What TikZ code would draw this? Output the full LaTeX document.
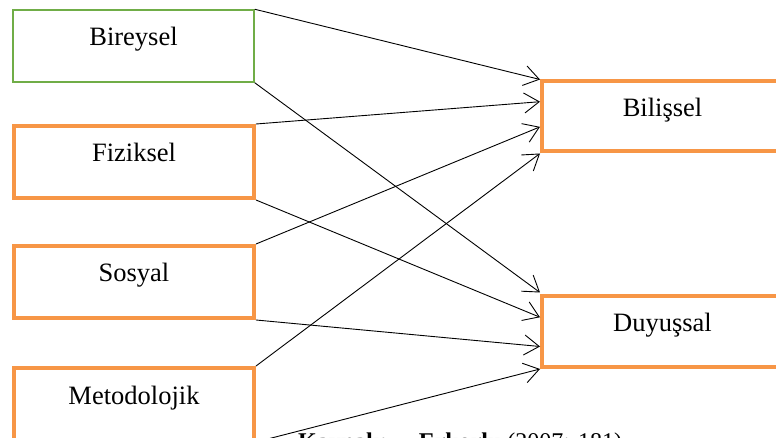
\documentclass[tikz,border=0pt]{standalone}
\usepackage{fontspec}
\setmainfont{Liberation Serif}
\usetikzlibrary{arrows.meta,calc}
\definecolor{boxgreen}{HTML}{70AD47}
\definecolor{boxorange}{HTML}{F79646}
\tikzset{
  basebox/.style={draw, minimum height=72pt, inner sep=0pt,
    font=\fontsize{26.5}{31}\selectfont, text height=17pt, text depth=17pt},
  greenbox/.style={basebox, draw=boxgreen, line width=1.5pt, minimum width=241pt},
  orangebox/.style={basebox, draw=boxorange, line width=4pt, minimum width=240pt},
  conn/.style={draw=black, line width=0.9pt, -{Straight Barb[length=15pt,width=20pt,line width=0.9pt]}},
}
\begin{document}
\begin{tikzpicture}[x=1pt,y=-1pt]
\useasboundingbox (0,0) rectangle (776,438);
\clip (0,0) rectangle (776,438);
\node[greenbox] (bir) at (133.5,46) {Bireysel};
\node[orangebox] (fiz) at (134,162) {Fiziksel};
\node[orangebox] (sos) at (134,282) {Sosyal};
\node[orangebox] (met) at (134,404) {Metodolojik};
\node[orangebox, minimum height=70pt, minimum width=241pt] (bil) at (662.5,116.5) {Bilişsel};
\node[orangebox, minimum height=71pt, minimum width=241pt] (duy) at (662.5,331.5) {Duyuşsal};
% target points on left edges
\coordinate (b1) at ($(bil.north west)!0.00!(bil.south west)$);
\coordinate (b2) at ($(bil.north west)!0.30!(bil.south west)$);
\coordinate (b3) at ($(bil.north west)!0.64!(bil.south west)$);
\coordinate (b4) at ($(bil.north west)!1.00!(bil.south west)$);
\coordinate (d1) at ($(duy.north west)!-0.02!(duy.south west)$);
\coordinate (d2) at ($(duy.north west)!0.31!(duy.south west)$);
\coordinate (d3) at ($(duy.north west)!0.70!(duy.south west)$);
\coordinate (d4) at ($(duy.north west)!1.00!(duy.south west)$);
\draw[conn] (bir.north east) -- (b1);
\draw[conn] (fiz.north east) -- (b2);
\draw[conn] (sos.north east) -- (b3);
\draw[conn] (met.north east) -- (b4);
\draw[conn] (bir.south east) -- (d1);
\draw[conn] (fiz.south east) -- (d2);
\draw[conn] (sos.south east) -- (d3);
\draw[conn] (met.south east) -- (d4);
\node[anchor=base west, inner sep=0pt, font=\fontsize{24}{28}\selectfont] (cap) at (298,449)
  {\textbf{Kaynak:}\hspace{1.3em}\textbf{Erkorlu} (2007: 181)};
\end{tikzpicture}
\end{document}
